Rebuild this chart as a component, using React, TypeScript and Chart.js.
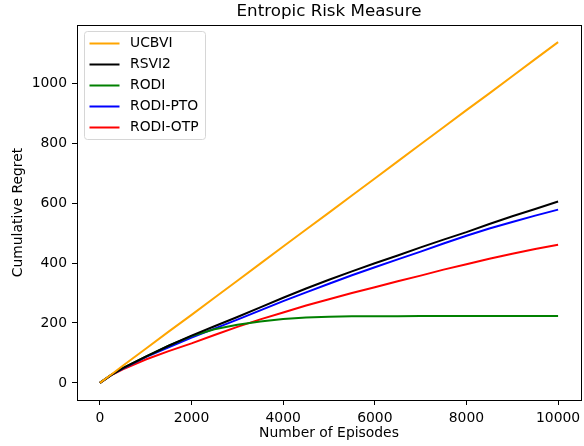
import React, { useEffect, useRef } from "react";
import { Chart, registerables } from "chart.js";

Chart.register(...registerables);

const episodes = [0, 250, 500, 1000, 1500, 2000, 2500, 3000, 3500, 4000, 4500, 5000, 5500, 6000, 6500, 7000, 7500, 8000, 8500, 9000, 9500, 10000];
const ucbvi = [0, 28, 57, 114, 171, 227, 284, 341, 398, 455, 512, 568, 625, 682, 739, 796, 853, 910, 966, 1023, 1080, 1137];
const rsvi2 = [0, 27, 49, 88, 124, 158, 189, 220, 252, 284, 315, 344, 372, 399, 425, 452, 478, 503, 530, 556, 580, 605];
const rodi = [0, 27, 49, 88, 124, 156, 179, 194, 205, 213, 218, 221, 222, 222, 222, 223, 223, 223, 223, 223, 223, 223];
const rodiPto = [0, 27, 48, 86, 119, 151, 181, 211, 242, 273, 302, 331, 359, 386, 412, 438, 465, 491, 515, 537, 558, 578];
const rodiOtp = [0, 26, 45, 78, 106, 132, 160, 187, 212, 235, 258, 279, 300, 319, 339, 358, 378, 396, 414, 431, 447, 461];

const seriesLabels = ["UCBVI", "RSVI2", "RODI", "RODI-PTO", "RODI-OTP"];
const seriesColors = ["#FFA500", "#000000", "#008000", "#0000FF", "#FF0000"];
const seriesValues = [ucbvi, rsvi2, rodi, rodiPto, rodiOtp];

const xTicks = [0, 2000, 4000, 6000, 8000, 10000];
const yTicks = [0, 200, 400, 600, 800, 1000];

const titleText = "Entropic Risk Measure";
const xTitle = "Number of Episodes";
const yTitle = "Cumulative Regret";

const FONT = "'DejaVu Sans', sans-serif";

export default function App() {
  const ref = useRef<HTMLCanvasElement | null>(null);

  useEffect(() => {
    if (!ref.current) return;
    const frame = {
      id: "frame",
      afterDatasetsDraw(chart: any) {
        const { ctx, chartArea: a } = chart;
        ctx.save();
        ctx.strokeStyle = "#000";
        ctx.lineWidth = 1;
        ctx.strokeRect(Math.round(a.left) + 0.5, Math.round(a.top) + 0.5, Math.round(a.right - a.left), Math.round(a.bottom - a.top));
        ctx.restore();
      },
      afterDraw(chart: any) {
        const { ctx, chartArea: a } = chart;
        ctx.save();
        // title
        ctx.fillStyle = "#000";
        ctx.font = `16.7px ${FONT}`;
        ctx.textAlign = "center";
        ctx.textBaseline = "middle";
        ctx.fillText(titleText, (a.left + a.right) / 2, 12);
        // legend
        const bx = 84.5, by = 31.5, bw = 121, bh = 108, r = 3;
        ctx.beginPath();
        ctx.moveTo(bx + r, by);
        ctx.arcTo(bx + bw, by, bx + bw, by + bh, r);
        ctx.arcTo(bx + bw, by + bh, bx, by + bh, r);
        ctx.arcTo(bx, by + bh, bx, by, r);
        ctx.arcTo(bx, by, bx + bw, by, r);
        ctx.closePath();
        ctx.fillStyle = "rgba(255,255,255,0.8)";
        ctx.fill();
        ctx.strokeStyle = "#d6d6d6";
        ctx.lineWidth = 1;
        ctx.stroke();
        ctx.font = `13.9px ${FONT}`;
        ctx.textAlign = "left";
        ctx.textBaseline = "middle";
        chart.data.datasets.forEach((ds: any, i: number) => {
          const y = 43.5 + i * 21;
          ctx.strokeStyle = ds.borderColor;
          ctx.lineWidth = 2;
          ctx.beginPath();
          ctx.moveTo(89.5, y);
          ctx.lineTo(119.5, y);
          ctx.stroke();
          ctx.fillStyle = "#000";
          ctx.fillText(ds.label, 130, y);
        });
        ctx.restore();
      },
    };

    const chart = new Chart(ref.current, {
      type: "line",
      data: {
        datasets: seriesLabels.map((label, i) => ({
          label,
          data: episodes.map((x, j) => ({ x, y: seriesValues[i][j] })),
          borderColor: seriesColors[i],
          backgroundColor: seriesColors[i],
          borderWidth: 2,
          pointRadius: 0,
          tension: 0,
          fill: false,
        })),
      },
      options: {
        responsive: false,
        animation: false,
        devicePixelRatio: 1,
        layout: { padding: { left: 0, right: 3, top: 25, bottom: 0 } },
        plugins: { legend: { display: false }, title: { display: false }, tooltip: { enabled: false } },
        scales: {
          x: {
            type: "linear",
            min: -500,
            max: 10500,
            afterBuildTicks: (s: any) => { s.ticks = xTicks.map((v) => ({ value: v })); },
            afterFit: (s: any) => { s.height = 46; s.paddingLeft = 0; s.paddingRight = 0; },
            ticks: { color: "#000", font: { family: FONT, size: 13.9 }, padding: 5, maxRotation: 0, autoSkip: false, callback: (v: any) => String(v) },
            grid: { display: true, drawOnChartArea: false, drawTicks: true, tickLength: 5, tickColor: "#000", tickWidth: 1 },
            border: { display: false },
            title: { display: true, text: xTitle, color: "#000", font: { family: FONT, size: 13.9 }, padding: { top: 4, bottom: 4 } },
          },
          y: {
            type: "linear",
            min: -57,
            max: 1194,
            afterBuildTicks: (s: any) => { s.ticks = yTicks.map((v) => ({ value: v })); },
            afterFit: (s: any) => { s.width = 77; s.paddingTop = 0; s.paddingBottom = 0; },
            ticks: { color: "#000", font: { family: FONT, size: 13.9 }, padding: 5, autoSkip: false, callback: (v: any) => String(v) },
            grid: { display: true, drawOnChartArea: false, drawTicks: true, tickLength: 5, tickColor: "#000", tickWidth: 1 },
            border: { display: false },
            title: { display: true, text: yTitle, color: "#000", font: { family: FONT, size: 13.9 }, padding: { top: 10, bottom: 4 } },
          },
        },
      },
      plugins: [frame],
    } as any);
    return () => chart.destroy();
  }, []);

  return (
    <div style={{ position: "fixed", left: 0, top: 0, width: 584, height: 446, background: "#fff" }}>
      <canvas ref={ref} width={584} height={446} style={{ width: 584, height: 446, display: "block" }} />
    </div>
  );
}
